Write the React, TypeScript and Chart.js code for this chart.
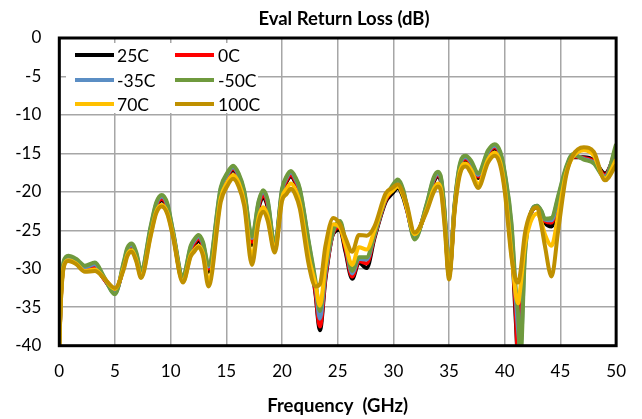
import React, { useEffect, useRef } from "react";
import { Chart, registerables } from "chart.js";
Chart.register(...registerables);

const freqGHz = [0, 0.15, 0.4, 0.8, 1.5, 2.3, 3.2, 4.0, 5.0, 5.8,
  6.1, 6.5, 6.9, 7.35, 8.2, 8.7, 9.2, 9.7, 10.2, 11.1,
  11.8, 12.1, 12.5, 12.9, 13.4, 14.5, 15.1, 15.6, 16.1, 16.6,
  17.3, 17.9, 18.3, 18.7, 19.35, 20.0, 20.4, 20.8, 21.2, 21.6,
  22.4, 23.0, 23.4, 23.9, 24.6, 25.2, 25.7, 26.3, 26.9, 27.6,
  28.3, 29.3, 29.9, 30.4, 30.9, 31.2, 31.9, 33.0, 33.6, 34.0,
  34.3, 34.6, 35.0, 35.5, 36.0, 36.5, 37.0, 37.6, 38.5, 39.1,
  39.6, 40.0, 40.6, 41.0, 41.2, 41.4, 41.8, 42.3, 42.9, 43.3,
  43.6, 44.2, 44.8, 45.5, 46.1, 47.1, 48.0, 49.0, 50.0];

const rl25C = [-40, -33.6, -29.5, -28.7, -29.2, -30.2, -29.9, -31.3, -32.9, -29.6,
  -27.9, -27.2, -28.4, -30.6, -25.2, -22.1, -21.1, -22.2, -25.4, -31.5,
  -27.7, -27.0, -26.4, -27.3, -30.4, -20.2, -18.1, -17.2, -18.2, -20.5,
  -26.9, -22.1, -20.7, -21.9, -27.3, -20.3, -18.7, -18.0, -18.8, -20.3,
  -27.2, -33.2, -38.0, -31.3, -25.4, -24.9, -27.8, -31.3, -29.2, -29.9,
  -26.0, -21.3, -20.2, -19.5, -20.8, -22.3, -25.7, -22.0, -18.8, -18.0,
  -18.9, -23.3, -30.9, -22.0, -16.8, -15.9, -16.6, -18.2, -15.2, -14.4,
  -15.4, -18.3, -26.0, -37.0, -42.0, -36.0, -27.0, -23.0, -22.0, -23.0,
  -24.0, -24.5, -21.2, -17.4, -15.5, -15.5, -15.9, -17.6, -14.8];
const rl0C = [-40, -33.5, -29.4, -28.6, -29.1, -30.1, -29.7, -31.3, -33.0, -29.5,
  -27.7, -27.0, -28.2, -30.5, -25.0, -21.9, -20.9, -22.0, -25.3, -31.4,
  -27.5, -26.7, -26.1, -27.0, -30.0, -20.0, -17.9, -17.0, -18.0, -20.3,
  -26.5, -21.8, -20.4, -21.6, -27.2, -20.1, -18.5, -17.8, -18.6, -20.1,
  -27.0, -33.0, -37.5, -31.0, -25.3, -24.6, -27.4, -31.0, -29.0, -29.3,
  -25.8, -21.1, -19.7, -18.9, -20.2, -22.1, -25.8, -21.8, -18.6, -17.8,
  -18.7, -23.0, -30.8, -21.8, -16.6, -15.7, -16.4, -18.0, -15.0, -14.2,
  -15.2, -18.0, -25.5, -36.0, -42.0, -36.0, -27.0, -23.0, -21.9, -22.8,
  -23.8, -24.0, -21.0, -17.2, -15.4, -15.6, -16.0, -17.8, -14.5];
const rlM35C = [-40, -33.2, -29.2, -28.5, -28.9, -29.8, -29.4, -31.1, -33.2, -29.2,
  -27.5, -26.9, -28.0, -30.3, -24.7, -21.6, -20.6, -21.7, -25.1, -31.1,
  -27.2, -26.4, -25.8, -26.7, -29.7, -19.6, -17.7, -16.8, -17.8, -20.0,
  -26.0, -21.4, -20.0, -21.2, -27.0, -19.8, -18.2, -17.5, -18.3, -19.8,
  -26.7, -32.0, -36.5, -30.5, -25.1, -24.0, -26.8, -30.6, -28.7, -28.8,
  -25.6, -20.9, -19.4, -18.6, -20.0, -21.9, -26.0, -21.6, -18.4, -17.6,
  -18.5, -22.8, -30.6, -21.6, -16.4, -15.5, -16.2, -17.8, -14.8, -14.0,
  -15.0, -17.7, -24.5, -34.0, -38.0, -40.5, -28.0, -23.0, -21.8, -22.6,
  -23.6, -23.7, -20.7, -17.0, -15.2, -15.7, -16.2, -18.0, -14.2];
const rlM50C = [-40, -33, -29, -28.3, -28.7, -29.6, -29.2, -31.0, -33.3, -29.0,
  -27.3, -26.7, -27.8, -30.2, -24.5, -21.4, -20.4, -21.5, -25.0, -31.0,
  -27.0, -26.2, -25.6, -26.5, -29.5, -19.4, -17.5, -16.6, -17.6, -19.8,
  -25.8, -21.2, -19.8, -21.0, -26.9, -19.6, -18.0, -17.3, -18.1, -19.6,
  -26.5, -31.5, -35.5, -30.0, -25.0, -23.8, -26.5, -30.3, -28.5, -28.5,
  -25.5, -20.8, -19.2, -18.4, -19.8, -21.8, -26.2, -21.5, -18.2, -17.4,
  -18.3, -22.5, -30.5, -21.5, -16.2, -15.3, -16.0, -17.6, -14.6, -13.8,
  -14.8, -17.5, -24.0, -33.0, -36.0, -42.0, -28.5, -23.0, -21.8, -22.5,
  -23.5, -23.4, -20.5, -16.8, -15.1, -15.8, -16.3, -18.2, -13.8];
const rl70C = [-40, -34, -29.7, -28.9, -29.3, -30.3, -30.1, -31.2, -32.6, -29.8,
  -28.2, -27.6, -28.8, -31.0, -25.6, -22.6, -21.7, -22.7, -25.6, -31.7,
  -28.2, -27.6, -27.0, -28.0, -31.5, -20.8, -18.7, -17.8, -18.8, -21.3,
  -28.5, -23.3, -22.0, -23.1, -27.6, -20.8, -19.6, -18.9, -19.7, -21.5,
  -28.5, -32.0, -34.8, -29.5, -24.2, -24.6, -27.0, -29.5, -27.2, -27.5,
  -25.0, -20.8, -19.9, -19.3, -20.6, -22.1, -25.5, -22.3, -19.7, -18.9,
  -19.8, -24.0, -31.0, -22.2, -17.2, -16.3, -17.2, -19.0, -15.8, -14.9,
  -16.2, -19.5, -28.0, -33.5, -34.5, -32.5, -27.0, -24.0, -22.8, -24.0,
  -25.5, -27.0, -23.0, -17.6, -15.5, -14.6, -15.3, -18.3, -15.8];
const rl100C = [-40, -34, -29.8, -29.0, -29.4, -30.4, -30.3, -31.2, -32.5, -30.0,
  -28.4, -27.8, -29.0, -31.2, -25.8, -22.8, -21.9, -22.9, -25.8, -31.8,
  -28.4, -27.8, -27.2, -28.3, -32.3, -21.3, -19.2, -18.3, -19.3, -21.8,
  -29.5, -23.9, -22.6, -23.7, -27.9, -21.2, -20.3, -19.6, -20.4, -22.2,
  -29.5, -32.3, -32.0, -27.0, -23.4, -24.2, -26.0, -27.8, -25.6, -25.7,
  -24.5, -20.2, -19.5, -19.0, -20.3, -21.6, -25.3, -22.5, -20.1, -19.3,
  -20.2, -24.5, -31.4, -22.5, -17.6, -16.7, -17.7, -19.5, -16.2, -15.3,
  -16.6, -20.0, -28.5, -31.5, -31.8, -30.5, -25.5, -22.8, -22.0, -24.5,
  -27.0, -31.0, -25.0, -18.0, -15.3, -14.2, -14.8, -18.5, -16.5];

const seriesLabels = ["25C", "0C", "-35C", "-50C", "70C", "100C"];
const seriesColors = ["#000000", "#FF0000", "#5B8EC4", "#6F9A3E", "#FFC000", "#BF9000"];
const seriesValues = [rl25C, rl0C, rlM35C, rlM50C, rl70C, rl100C];

const chartTitle = "Eval Return Loss (dB)";
const xTitle = "Frequency  (GHz)";
const FONT = "Lato, 'Liberation Sans', sans-serif";

export default function App() {
  const ref = useRef<HTMLCanvasElement>(null);
  useEffect(() => {
    const canvas = ref.current!;
    const overlay = {
      id: "overlay",
      afterDatasetsDraw(chart: any) {
        const { ctx, chartArea } = chart;
        ctx.save();
        ctx.fillStyle = "#ffffff";
        ctx.fillRect(66, 43, 192, 70);
        const rows = [55, 80, 104];
        const cols = [{ x0: 75, x1: 114, tx: 117 }, { x0: 175, x1: 214, tx: 218 }];
        ctx.font = `17.5px ${FONT}`;
        ctx.textBaseline = "middle";
        ctx.textAlign = "left";
        seriesLabels.forEach((lab, i) => {
          const r = rows[Math.floor(i / 2)];
          const c = cols[i % 2];
          ctx.strokeStyle = seriesColors[i];
          ctx.lineWidth = 4;
          ctx.beginPath();
          ctx.moveTo(c.x0, r);
          ctx.lineTo(c.x1, r);
          ctx.stroke();
          ctx.fillStyle = "#000";
          ctx.fillText(lab, c.tx, r + 1);
        });
        ctx.strokeStyle = "#000";
        ctx.lineWidth = 3;
        ctx.strokeRect(chartArea.left, chartArea.top, chartArea.right - chartArea.left, chartArea.bottom - chartArea.top);
        ctx.font = `bold 18.5px ${FONT}`;
        ctx.textAlign = "center";
        ctx.fillStyle = "#000";
        ctx.fillText(chartTitle, 344, 19);
        ctx.restore();
      },
    };
    const orders = [5, 4, 3, 2, 1, 0];
    const chart = new Chart(canvas, {
      type: "line",
      data: {
        datasets: seriesLabels.map((lab, i) => ({
          label: lab,
          data: freqGHz.map((f, j) => ({ x: f, y: seriesValues[i][j] })),
          borderColor: seriesColors[i],
          backgroundColor: seriesColors[i],
          borderWidth: 4,
          pointRadius: 0,
          cubicInterpolationMode: "monotone",
          order: orders[i],
        })),
      },
      options: {
        animation: false,
        responsive: false,
        layout: { padding: { left: 0, right: 25.7, top: 38, bottom: 0 } },
        plugins: { legend: { display: false }, title: { display: false }, tooltip: { enabled: false } },
        scales: {
          x: {
            type: "linear",
            min: 0,
            max: 50,
            ticks: { stepSize: 5, font: { family: FONT, size: 17 }, color: "#000", padding: 16, maxRotation: 0 },
            grid: { color: "#a6a6a6", lineWidth: 1.5, drawTicks: false, tickLength: 0 },
            border: { display: false },
            title: { display: true, text: xTitle, font: { family: FONT, size: 18.5, weight: "bold" }, color: "#000", padding: { top: 0, bottom: 2 } },
            afterFit: (s: any) => { s.height = 73.3; },
          },
          y: {
            min: -40,
            max: 0,
            ticks: { stepSize: 5, font: { family: FONT, size: 17 }, color: "#000", padding: 18 },
            grid: { color: "#a6a6a6", lineWidth: 1.5, drawTicks: false, tickLength: 0 },
            border: { display: false },
            afterFit: (s: any) => { s.width = 59.3; },
          },
        },
      },
      plugins: [overlay],
    } as any);
    return () => chart.destroy();
  }, []);
  return (
    <div style={{ position: "fixed", left: 0, top: 0, width: 642, height: 419, background: "#fff" }}>
      <canvas ref={ref} width={642} height={419} style={{ width: 642, height: 419, display: "block" }} />
    </div>
  );
}
